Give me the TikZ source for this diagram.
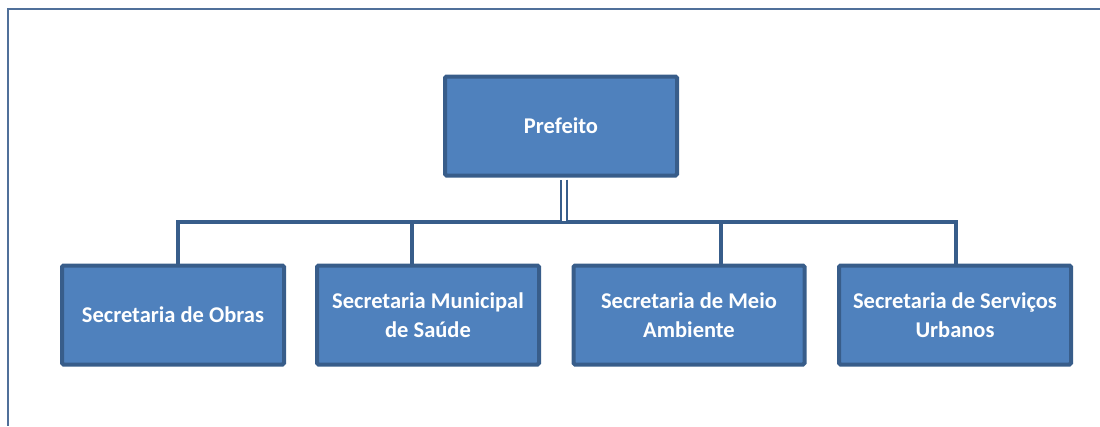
\documentclass[tikz,border=0pt]{standalone}
\usepackage{fontspec}
\setmainfont{Carlito}
\usepackage{tikz}

\definecolor{boxfill}{HTML}{4F81BD}
\definecolor{boxline}{HTML}{385D8A}
\definecolor{framecol}{HTML}{50709A}

\tikzset{
  orgbox/.style={draw=boxline, fill=boxfill, line width=4pt, rounded corners=1.5pt,
    text=white, font=\bfseries\fontsize{22.5}{29}\selectfont, align=center,
    minimum height=99pt, inner sep=0pt},
  conn/.style={draw=boxline, line width=3.6pt}
}

\begin{document}
\begin{tikzpicture}[x=1pt, y=-1pt]
            \useasboundingbox (0,0) rectangle (1100,426);
            % frame
            \draw[framecol, line width=2.8pt] (1100,9) -- (8,9) -- (8,426);
            % boxes
            \node[orgbox, minimum width=232pt] (prefeito) at (561,126) {Prefeito};
            \node[orgbox, minimum width=222pt] (obras) at (173,315) {Secretaria de Obras};
            \node[orgbox, minimum width=222pt] (saude) at (428,315) {Secretaria Municipal\\de Saúde};
            \node[orgbox, minimum width=231pt] (meio) at (689,315) {Secretaria de Meio\\Ambiente};
            \node[orgbox, minimum width=232pt] (servicos) at (955,315) {Secretaria de Serviços\\Urbanos};
            % connectors
            \coordinate (bus) at (564,222);
            \draw[conn] ([xshift=5pt]obras.north) |- ([xshift=1pt]servicos.north |- bus)
                  -- ([xshift=1pt]servicos.north);
            \draw[conn] ([xshift=-16pt]saude.north) -- ([xshift=-16pt]saude.north |- bus);
            \draw[conn] ([xshift=32pt]meio.north) -- ([xshift=32pt]meio.north |- bus);
            \draw[boxline, line width=2.4pt, double=white, double distance=3.5pt]
                  ([xshift=3pt,yshift=-2pt]prefeito.south) -- ([yshift=1pt]bus);
\end{tikzpicture}
\end{document}
